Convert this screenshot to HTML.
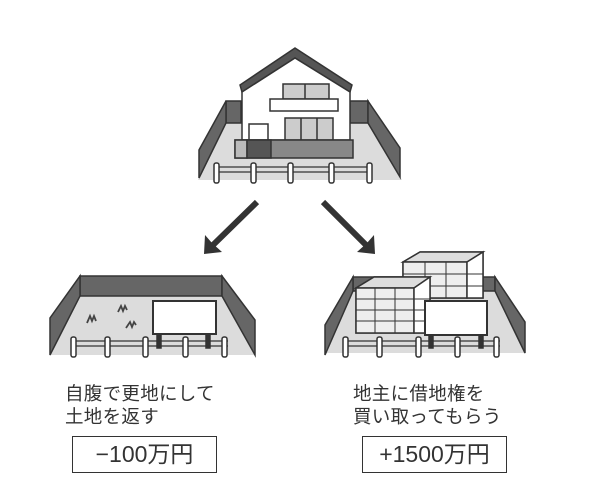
<!DOCTYPE html>
<html><head><meta charset="utf-8"><style>
html,body{margin:0;padding:0;background:#fff;}
body{width:600px;height:501px;position:relative;overflow:hidden;font-family:"Liberation Sans","Noto Sans CJK JP",sans-serif;color:#333;}
.t{position:absolute;font-size:18.5px;line-height:23px;letter-spacing:0.3px;}
.b{position:absolute;border:1.5px solid #333;box-sizing:border-box;height:37px;top:436px;font-size:23px;text-align:center;line-height:34px;}
</style></head><body>
<svg width="600" height="501" style="position:absolute;left:0;top:0" stroke-linejoin="miter">
<g stroke="#333" stroke-width="1.5">
<!-- house lot -->
<polygon points="226,122 368,122 402,180 198,180" fill="#dcdcdc" stroke="none"/>
<rect x="226" y="101" width="15" height="22" fill="#666"/>
<rect x="350" y="101" width="18" height="22" fill="#666"/>
<polygon points="226,101 226,123 199,178 199,150" fill="#666"/>
<polygon points="368,101 368,123 400,177 400,148" fill="#666"/>
<polygon points="240,85 295,48 352,85 350,92 295,58 242,92" fill="#555"/>
<polygon points="242,92 295,58 350,92 350,140 242,140" fill="#fff"/>
<rect x="283" y="84" width="46" height="15" fill="#ccc"/>
<line x1="305" y1="84" x2="305" y2="99"/>
<rect x="270" y="99" width="68" height="12" fill="#fff"/>
<rect x="285" y="118" width="48" height="22" fill="#ccc"/>
<line x1="301" y1="118" x2="301" y2="140"/><line x1="317" y1="118" x2="317" y2="140"/>
<rect x="249" y="124" width="19" height="16" fill="#fff"/>
<rect x="235" y="140" width="118" height="18" fill="#888"/>
<rect x="235" y="140" width="12" height="18" fill="#bbb"/>
<rect x="247" y="140" width="24" height="18" fill="#555"/>
<line x1="214" y1="167" x2="370" y2="167" stroke-width="1.2"/>
<line x1="214" y1="172" x2="370" y2="172" stroke-width="1.2"/>
<g fill="#fff"><rect x="214" y="163" width="5" height="20" rx="2"/><rect x="251" y="163" width="5" height="20" rx="2"/><rect x="288" y="163" width="5" height="20" rx="2"/><rect x="329" y="163" width="5" height="20" rx="2"/><rect x="367" y="163" width="5" height="20" rx="2"/></g>
</g>
<!-- arrows -->
<g stroke="#333" stroke-width="6" fill="none"><line x1="257" y1="202" x2="212" y2="246"/><line x1="323" y1="202" x2="367" y2="246"/></g>
<polygon points="204,254 205,235 212,243 222,252" fill="#333"/>
<polygon points="375,254 374,235 367,243 357,252" fill="#333"/>
<g stroke="#333" stroke-width="1.5">
<!-- left lot -->
<polygon points="80,296 222,296 255,355 50,355" fill="#dcdcdc" stroke="none"/>
<rect x="80" y="276" width="142" height="20" fill="#666"/>
<polygon points="80,276 80,296 50,355 50,318" fill="#666"/>
<polygon points="222,276 222,296 255,355 255,320" fill="#666"/>
<rect x="153" y="301" width="63" height="33" fill="#fff" stroke-width="2"/>
<rect x="157" y="334" width="4" height="14" fill="#333"/><rect x="206" y="334" width="4" height="14" fill="#333"/>
<g fill="none" stroke="#444" stroke-width="1.8"><path d="M87 323 l3 -7 l2 5 l2 -5 l2 5"/><path d="M118 312 l3 -6 l2 5 l2 -5 l2 4"/><path d="M126 328 l4 -6 l2 5 l2 -5 l2 3"/></g>
<line x1="72" y1="341" x2="228" y2="341" stroke-width="1.2"/>
<line x1="72" y1="346" x2="228" y2="346" stroke-width="1.2"/>
<g fill="#fff"><rect x="71" y="337" width="5" height="20" rx="2"/><rect x="105" y="337" width="5" height="20" rx="2"/><rect x="143" y="337" width="5" height="20" rx="2"/><rect x="183" y="337" width="5" height="20" rx="2"/><rect x="222" y="337" width="5" height="20" rx="2"/></g>
<!-- right lot -->
<polygon points="353,290 495,290 525,353 325,353" fill="#dcdcdc" stroke="none"/>
<rect x="353" y="277" width="142" height="14" fill="#666"/>
<polygon points="353,277 353,291 325,355 325,325" fill="#666"/>
<polygon points="495,277 495,291 525,353 525,322" fill="#666"/>
<!-- back stack -->
<polygon points="403,262 420,252 483,252 483,298 403,298" fill="#fff"/>
<polygon points="403,262 420,252 483,252 467,262" fill="#ddd"/>
<rect x="403" y="262" width="64" height="36" fill="#eee"/>
<polygon points="467,262 483,252 483,298 467,298" fill="#fff"/>
<g stroke-width="1"><line x1="403" y1="274" x2="483" y2="274"/><line x1="403" y1="286" x2="483" y2="286"/><line x1="425" y1="262" x2="425" y2="298"/><line x1="446" y1="262" x2="446" y2="298"/></g>
<!-- front stack -->
<polygon points="356,288 374,277 430,277 430,333 356,333" fill="#fff"/>
<polygon points="356,288 374,277 430,277 414,288" fill="#ddd"/>
<rect x="356" y="288" width="58" height="45" fill="#eee"/>
<polygon points="414,288 430,277 430,333 414,333" fill="#fff"/>
<g stroke-width="1"><line x1="356" y1="299" x2="430" y2="299"/><line x1="356" y1="310" x2="430" y2="310"/><line x1="356" y1="321" x2="430" y2="321"/><line x1="375" y1="288" x2="375" y2="333"/><line x1="395" y1="288" x2="395" y2="333"/></g>
<rect x="425" y="301" width="62" height="34" fill="#fff" stroke-width="2"/>
<rect x="429" y="335" width="4" height="13" fill="#333"/><rect x="479" y="335" width="4" height="13" fill="#333"/>
<line x1="344" y1="341" x2="500" y2="341" stroke-width="1.2"/>
<line x1="344" y1="346" x2="500" y2="346" stroke-width="1.2"/>
<g fill="#fff"><rect x="343" y="337" width="5" height="20" rx="2"/><rect x="377" y="337" width="5" height="20" rx="2"/><rect x="416" y="337" width="5" height="20" rx="2"/><rect x="455" y="337" width="5" height="20" rx="2"/><rect x="494" y="337" width="5" height="20" rx="2"/></g>
</g>
</svg>
<div class="t" style="left:65px;top:382px;">自腹で更地にして<br>土地を返す</div>
<div class="t" style="left:353px;top:382px;">地主に借地権を<br>買い取ってもらう</div>
<div class="b" style="left:72px;width:145px;">−100万円</div>
<div class="b" style="left:362px;width:145px;">+1500万円</div>
</body></html>
